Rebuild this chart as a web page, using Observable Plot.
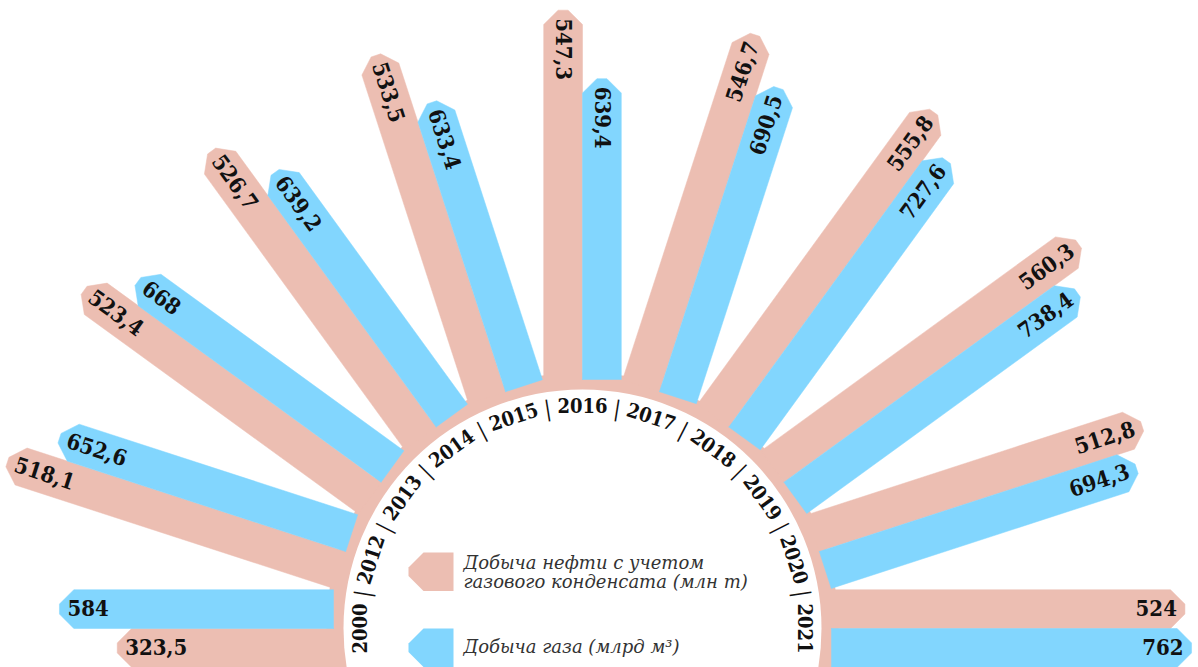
<!DOCTYPE html>
<html><head><meta charset="utf-8">
<script src="https://cdn.jsdelivr.net/npm/d3@7"></script>
<script src="https://cdn.jsdelivr.net/npm/@observablehq/plot@0.6"></script>
<style>
html,body{margin:0;padding:0;background:#fff;}
#chart svg{display:block;}
#chart text.cond{font-stretch:condensed;}
</style></head><body><div id="chart"></div>
<script>
// ---- data ----
const years = ["2000","2012","2013","2014","2015","2016","2017","2018","2019","2020","2021"];
const oil = [323.5, 518.1, 523.4, 526.7, 533.5, 547.3, 546.7, 555.8, 560.3, 512.8, 524];
const gas = [584, 652.6, 668, 639.2, 633.4, 639.4, 690.5, 727.6, 738.4, 694.3, 762];
const legendOil = ["Добыча нефти с учетом", "газового конденсата (млн т)"];
const legendGas = ["Добыча газа (млрд м³)"];

// ---- styles / layout ----
const COL_OIL = "#ECBEB2", COL_GAS = "#82D6FE";
const FONT_B = "DejaVu Serif Condensed, DejaVu Serif, serif";
const angle = d3.scalePoint(years, [180, 0]);       // degrees
const rOil = d3.scaleLinear([0, 600], [244, 654.4]);
const rGas = d3.scaleLinear([0, 800], [241, 627.4]);
const R0 = 249, HALF = 19.4, FLAT = 5, CH = HALF - FLAT, PAD = 8;
const rad = d => d * Math.PI / 180;
function toXY(theta, a, p) {
  const t = rad(theta);
  return {x: a * Math.cos(t) - p * Math.sin(t), y: a * Math.sin(t) + p * Math.cos(t)};
}

function barPoints(key, theta, L, side) {
  const p1 = side * 2 * HALF, pm = side * HALF;
  const local = [[R0, 0], [L - CH, 0], [L, pm - side * FLAT], [L, pm + side * FLAT], [L - CH, p1], [R0, p1], [R0, 0]];
  return local.map(([a, p]) => ({key, ...toXY(theta, a, p)}));
}

const oilPts = [], gasPts = [], labels = [];
years.forEach((yr, i) => {
  const th = angle(yr);
  const Lo = rOil(oil[i]), Lg = rGas(gas[i]);
  oilPts.push(...barPoints(yr, th, Lo, 1));
  gasPts.push(...barPoints(yr, th, Lg, -1));
  const left = th >= 90;
  labels.push({...toXY(th, Lo - PAD, HALF), text: String(oil[i]).replace(".", ","), rot: left ? 180 - th : -th, left});
  labels.push({...toXY(th, Lg - PAD, -HALF), text: String(gas[i]).replace(".", ","), rot: left ? 180 - th : -th, left});
});

const yearLabels = years.map(yr => ({...toXY(angle(yr), 222, 0), text: yr, rot: 90 - angle(yr)}));
const seps = years.slice(1).map((yr, i) => {
  const th = (angle(yr) + angle(years[i])) / 2;
  return {...toXY(th, 222, 0), text: "|", rot: 90 - th};
});

// legend swatch shapes (left-pointing tips)
const LX = -174, SW = 45, SH = 38.5, SC = 15;
function swatch(key, top) {
  const pts = [[SC, 0], [SW, 0], [SW, SH], [SC, SH], [0, SH - SC], [0, SC], [SC, 0]];
  return pts.map(([dx, dy]) => ({key, x: LX + dx, y: top - dy}));
}
const swOil = swatch("oil", 76), swGas = swatch("gas", 0);
const legText = [
  ...legendOil.map((t, i) => ({text: t, x: -119, y: 65 - i * 19})),
  ...legendGas.map(t => ({text: t, x: -119, y: -19}))
];

const chart = Plot.plot({
  width: 1198, height: 667, margin: 0,
  x: {domain: [-582, 616], axis: null},
  y: {domain: [-39, 628], axis: null},
  marks: [
    Plot.dot([{x: 0, y: 0}], {x: "x", y: "y", r: 256, fill: COL_OIL, stroke: "none"}),
    Plot.line(oilPts, {x: "x", y: "y", z: "key", fill: COL_OIL, stroke: COL_OIL, strokeWidth: 0.5, curve: "linear"}),
    Plot.line(gasPts, {x: "x", y: "y", z: "key", fill: COL_GAS, stroke: COL_GAS, strokeWidth: 0.5, curve: "linear"}),
    Plot.dot([{x: 0, y: 0}], {x: "x", y: "y", r: 239, fill: "white", stroke: "none"}),
    Plot.text(yearLabels, {x: "x", y: "y", text: "text", rotate: "rot", fontFamily: FONT_B, fontWeight: "bold", fontSize: 20, fill: "#111"}),
    Plot.text(seps, {x: "x", y: "y", text: "text", rotate: "rot", fontFamily: FONT_B, fontSize: 22, fill: "#111"}),
    Plot.text(labels.filter(d => d.left), {x: "x", y: "y", text: "text", rotate: "rot", textAnchor: "start", fontFamily: FONT_B, fontWeight: "bold", fontSize: 22, fill: "#111"}),
    Plot.text(labels.filter(d => !d.left), {x: "x", y: "y", text: "text", rotate: "rot", textAnchor: "end", fontFamily: FONT_B, fontWeight: "bold", fontSize: 22, fill: "#111"}),
    Plot.line(swOil, {x: "x", y: "y", fill: COL_OIL, stroke: "none"}),
    Plot.line(swGas, {x: "x", y: "y", fill: COL_GAS, stroke: "none"}),
    Plot.text(legText, {x: "x", y: "y", text: "text", textAnchor: "start", fontFamily: "DejaVu Serif, serif", fontStyle: "italic", fontSize: 18, fill: "#333"})
  ]
});
document.getElementById("chart").appendChild(chart);
</script></body></html>
